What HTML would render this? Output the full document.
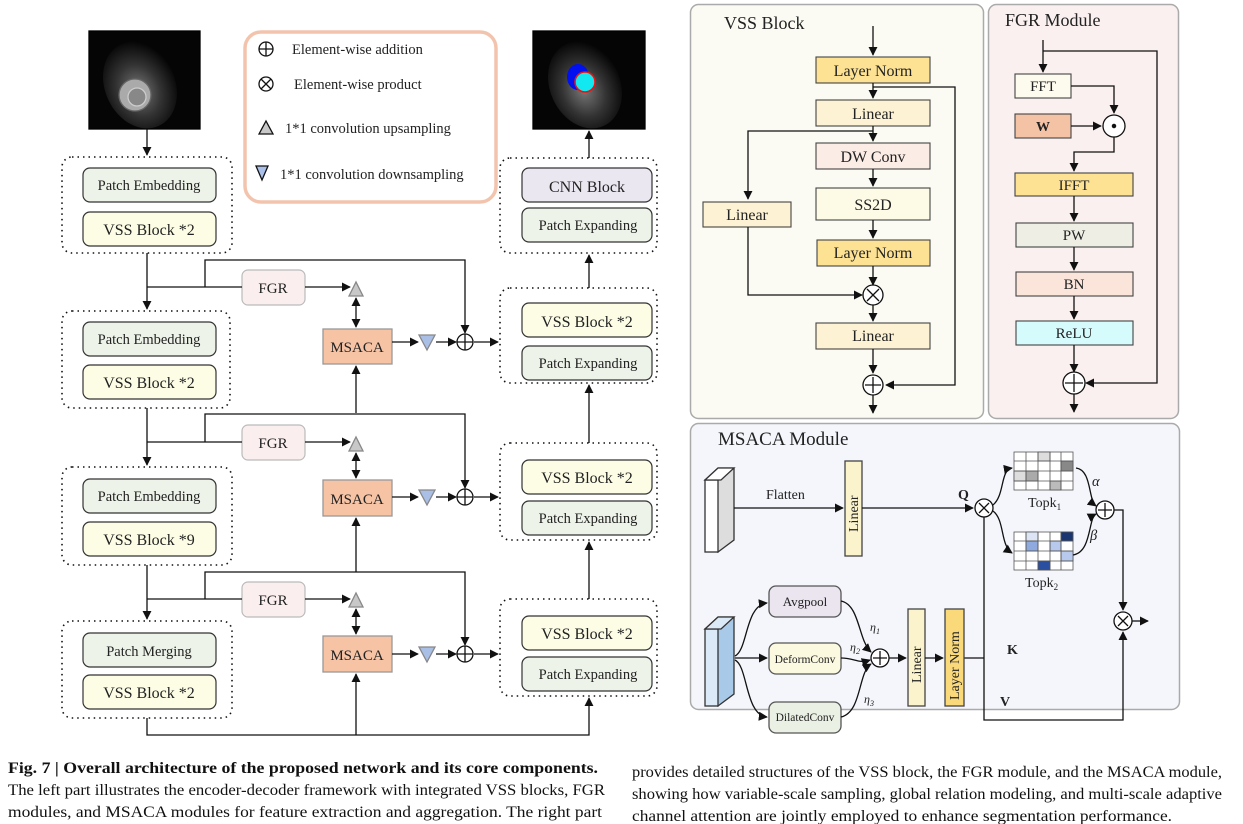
<!DOCTYPE html>
<html><head><meta charset="utf-8"><style>
html,body{margin:0;padding:0;background:#fff;width:1243px;height:824px;overflow:hidden}
svg{display:block}
text{font-family:"Liberation Serif",serif;fill:#222}
.c{font-size:16px;fill:#111}
</style></head><body>
<svg width="1243" height="824" viewBox="0 0 1243 824" xmlns="http://www.w3.org/2000/svg">
<defs>
<marker id="a" viewBox="0 0 10 10" refX="9" refY="5" markerWidth="7" markerHeight="7" orient="auto-start-reverse"><path d="M0,0L10,5L0,10z" fill="#111"/></marker>
<radialGradient id="img" cx="45%" cy="55%" r="60%"><stop offset="0" stop-color="#777"/><stop offset="0.5" stop-color="#333"/><stop offset="1" stop-color="#000"/></radialGradient>
</defs>
<g stroke="#111" stroke-width="1.3" fill="none">
<rect x="89" y="31" width="111" height="98" fill="#050505" stroke="#000"/>
<ellipse cx="140" cy="85" rx="35" ry="45" fill="url(#img)" stroke="none" transform="rotate(-25 140 85)"/>
<circle cx="135" cy="95" r="16" fill="#aaa" stroke="#666"/><circle cx="137" cy="97" r="9" fill="#888" stroke="#ccc"/>
<rect x="533" y="31" width="112" height="98" fill="#050505" stroke="#000"/>
<ellipse cx="585" cy="85" rx="35" ry="45" fill="url(#img)" stroke="none" transform="rotate(-25 585 85)"/>
<ellipse cx="578" cy="77" rx="11" ry="13" fill="#0010ee" stroke="none"/>
<circle cx="585" cy="82" r="10" fill="#11e8f0" stroke="#e11" stroke-width="1.5"/>
<rect x="245" y="32" width="251" height="170" rx="16" stroke="#f3c4ad" stroke-width="3.5"/>
<circle cx="266" cy="49" r="7"/><path d="M259,49h14M266,42v14"/>
<circle cx="266" cy="84" r="7"/><path d="M261,79l10,10M271,79l-10,10"/>
<path d="M259,134l7,-13l7,13z" fill="#c8c8c8"/>
<path d="M256,166l12,0l-6,14z" fill="#aac0e8"/>
<g stroke-dasharray="1.5 4" stroke-width="1.6">
<rect x="62" y="157" width="170" height="96" rx="10"/>
<rect x="62" y="311" width="168" height="97" rx="10"/>
<rect x="62" y="467" width="170" height="98" rx="10"/>
<rect x="62" y="621" width="170" height="97" rx="10"/>
<rect x="500" y="158" width="157" height="95" rx="10"/>
<rect x="500" y="288" width="157" height="95" rx="10"/>
<rect x="500" y="443" width="157" height="97" rx="10"/>
<rect x="500" y="599" width="157" height="97" rx="10"/>
</g>
<g stroke="#333" stroke-width="1.2">
<rect x="83" y="168" width="133" height="34" rx="7" fill="#edf3e8"/>
<rect x="83" y="212" width="133" height="34" rx="7" fill="#fdfde6"/>
<rect x="83" y="322" width="133" height="34" rx="7" fill="#edf3e8"/>
<rect x="83" y="365" width="133" height="34" rx="7" fill="#fdfde6"/>
<rect x="83" y="479" width="133" height="34" rx="7" fill="#edf3e8"/>
<rect x="83" y="522" width="133" height="34" rx="7" fill="#fdfde6"/>
<rect x="83" y="633" width="133" height="34" rx="7" fill="#edf3e8"/>
<rect x="83" y="675" width="133" height="34" rx="7" fill="#fdfde6"/>
<rect x="522" y="168" width="130" height="34" rx="7" fill="#ebe7f1"/>
<rect x="522" y="208" width="130" height="34" rx="7" fill="#edf3e8"/>
<rect x="522" y="303" width="130" height="34" rx="7" fill="#fdfde6"/>
<rect x="522" y="346" width="130" height="34" rx="7" fill="#edf3e8"/>
<rect x="522" y="460" width="130" height="34" rx="7" fill="#fdfde6"/>
<rect x="522" y="501" width="130" height="34" rx="7" fill="#edf3e8"/>
<rect x="522" y="616" width="130" height="34" rx="7" fill="#fdfde6"/>
<rect x="522" y="657" width="130" height="34" rx="7" fill="#edf3e8"/>
</g>
<g stroke="#bbb" stroke-width="1.2">
<rect x="242" y="270" width="63" height="35" rx="6" fill="#fbeeee"/>
<rect x="242" y="425" width="63" height="35" rx="6" fill="#fbeeee"/>
<rect x="242" y="582" width="63" height="35" rx="6" fill="#fbeeee"/>
</g>
<g stroke="#999" fill="#f6c3a5">
<rect x="323" y="329" width="69" height="35"/>
<rect x="323" y="480" width="69" height="36"/>
<rect x="323" y="636" width="69" height="36"/>
</g>
<path d="M147,129V155" marker-end="url(#a)"/>
<path d="M589,158V131" marker-end="url(#a)"/>
<path d="M589,288V255" marker-end="url(#a)"/>
<path d="M589,443V385" marker-end="url(#a)"/>
<path d="M589,599V542" marker-end="url(#a)"/>
<g>
<path d="M147,253V309" marker-end="url(#a)"/><path d="M147,287H242"/>
<path d="M205,287V260H465V333" marker-end="url(#a)"/>
<path d="M305,287H350" marker-end="url(#a)"/>
<path d="M392,342H418" marker-end="url(#a)"/><path d="M436,342H456" marker-end="url(#a)"/><path d="M474,342H498" marker-end="url(#a)"/>
<path d="M356,298V327" marker-start="url(#a)" marker-end="url(#a)"/>
<path d="M356,413V366" marker-end="url(#a)"/>
<path d="M147,408V465" marker-end="url(#a)"/><path d="M147,442H242"/>
<path d="M205,442V414H465V488" marker-end="url(#a)"/>
<path d="M305,442H350" marker-end="url(#a)"/>
<path d="M392,497H418" marker-end="url(#a)"/><path d="M436,497H456" marker-end="url(#a)"/><path d="M474,497H498" marker-end="url(#a)"/>
<path d="M356,453V478" marker-start="url(#a)" marker-end="url(#a)"/>
<path d="M356,572V518" marker-end="url(#a)"/>
<path d="M147,565V619" marker-end="url(#a)"/><path d="M147,599H242"/>
<path d="M205,599V572H465V645" marker-end="url(#a)"/>
<path d="M305,599H350" marker-end="url(#a)"/>
<path d="M392,654H418" marker-end="url(#a)"/><path d="M436,654H456" marker-end="url(#a)"/><path d="M474,654H498" marker-end="url(#a)"/>
<path d="M356,609V634" marker-start="url(#a)" marker-end="url(#a)"/>
<path d="M147,718V735H589V698"  marker-end="url(#a)"/><path d="M356,735V674" marker-end="url(#a)"/>
</g>
<g fill="#c8c8c8" stroke="#888"><path d="M349,296l7,-14l7,14z"/><path d="M349,451l7,-14l7,14z"/><path d="M349,607l7,-14l7,14z"/></g>
<g fill="#a9bfe6" stroke="#888"><path d="M419,335h16l-8,15z"/><path d="M419,490h16l-8,15z"/><path d="M419,647h16l-8,15z"/></g>
<g fill="#fff"><circle cx="465" cy="342" r="8"/><circle cx="465" cy="497" r="8"/><circle cx="465" cy="654" r="8"/></g>
<path d="M457,342h16M465,334v16M457,497h16M465,489v16M457,654h16M465,646v16"/>
<rect x="690.5" y="4.5" width="293" height="414" rx="8" fill="#fbfbf3" stroke="#aaa" stroke-width="1.5"/>
<rect x="988.5" y="4.5" width="190" height="414" rx="8" fill="#fbf0f0" stroke="#aaa" stroke-width="1.5"/>
<rect x="690.5" y="423.5" width="489" height="286" rx="8" fill="#f4f6fb" stroke="#aaa" stroke-width="1.5"/>
<g stroke="#444" stroke-width="1.1">
<rect x="816" y="57" width="114" height="26" fill="#fde294"/>
<rect x="816" y="100" width="114" height="26" fill="#fdf3d4"/>
<rect x="816" y="143" width="114" height="26" fill="#fbece6"/>
<rect x="816" y="188" width="114" height="32" fill="#fdfbe6"/>
<rect x="817" y="240" width="113" height="26" fill="#fde294"/>
<rect x="816" y="323" width="114" height="26" fill="#fdf3d4"/>
<rect x="703" y="202" width="88" height="25" fill="#fdf3d4"/>
<rect x="1015" y="74" width="56" height="24" fill="#fdfbee"/>
<rect x="1015" y="114" width="56" height="24" fill="#f4c3a6"/>
<rect x="1015" y="173" width="118" height="23" fill="#fde294"/>
<rect x="1016" y="223" width="117" height="24" fill="#eeeee4"/>
<rect x="1016" y="272" width="117" height="24" fill="#fbe5da"/>
<rect x="1016" y="321" width="117" height="24" fill="#d6fbfd"/>
</g>
<path d="M873,26V55" marker-end="url(#a)"/>
<path d="M873,83V98" marker-end="url(#a)"/><path d="M873,87H955V385H886" marker-end="url(#a)"/>
<path d="M873,126V141" marker-end="url(#a)"/><path d="M873,131H748V199" marker-end="url(#a)"/>
<path d="M873,169V186" marker-end="url(#a)"/><path d="M873,220V238" marker-end="url(#a)"/>
<path d="M873,266V285" marker-end="url(#a)"/><path d="M748,227V295H862" marker-end="url(#a)"/>
<path d="M873,305V321" marker-end="url(#a)"/><path d="M873,349V373" marker-end="url(#a)"/>
<path d="M873,393V413" marker-end="url(#a)"/>
<circle cx="873" cy="295" r="10" fill="#fff"/><path d="M867,289l12,12M879,289l-12,12"/>
<circle cx="873" cy="385" r="10" fill="#fff"/><path d="M865,385h16M873,377v16"/>
<path d="M1043,40V72" marker-end="url(#a)"/><path d="M1043,51H1157V383H1086" marker-end="url(#a)"/>
<path d="M1071,86H1114V113" marker-end="url(#a)"/><path d="M1071,126H1101" marker-end="url(#a)"/>
<path d="M1114,136V152H1074V171" marker-end="url(#a)"/>
<path d="M1074,196V221" marker-end="url(#a)"/><path d="M1074,247V270" marker-end="url(#a)"/>
<path d="M1074,296V319" marker-end="url(#a)"/><path d="M1074,345V372" marker-end="url(#a)"/>
<path d="M1074,393V412" marker-end="url(#a)"/>
<circle cx="1114" cy="126" r="11" fill="#fff"/><circle cx="1114" cy="126" r="1.6" fill="#111"/>
<circle cx="1074" cy="383" r="11" fill="#fff"/><path d="M1065,383h18M1074,374v18"/>
<path d="M705,480l13,-12h16v72l-16,12z" fill="#ddd" stroke="#333"/><rect x="705" y="480" width="13" height="72" fill="#fff" stroke="#333"/><path d="M705,480l13,-12h16l-13,12z" fill="#fff" stroke="#333"/>
<path d="M734,508H843" marker-end="url(#a)"/>
<rect x="845" y="461" width="17" height="95" fill="#fbf3cc" stroke="#444"/>
<path d="M862,508H973" marker-end="url(#a)"/>
<circle cx="984" cy="508" r="9" fill="#fff"/><path d="M979,503l10,10M989,503l-10,10"/>
<path d="M993,505C1005,495 1000,470 1012,468" marker-end="url(#a)"/>
<path d="M993,511C1005,520 1000,545 1012,553" marker-end="url(#a)"/>
<g stroke="#555" stroke-width="0.8">
<rect x="1014" y="452" width="59" height="38" fill="#fff"/>
<rect x="1038" y="452" width="12" height="9" fill="#ddd"/><rect x="1061" y="461" width="12" height="10" fill="#888"/>
<rect x="1014" y="471" width="12" height="10" fill="#ddd"/><rect x="1026" y="471" width="12" height="10" fill="#aaa"/><rect x="1050" y="481" width="11" height="9" fill="#bbb"/>
<path d="M1026,452v38M1038,452v38M1050,452v38M1061,452v38M1014,461h59M1014,471h59M1014,481h59"/>
<rect x="1014" y="532" width="59" height="38" fill="#fff"/>
<rect x="1026" y="532" width="12" height="9" fill="#dde5f5"/><rect x="1061" y="532" width="12" height="9" fill="#1a3570"/>
<rect x="1026" y="541" width="12" height="10" fill="#8eaadf"/><rect x="1050" y="541" width="11" height="10" fill="#b7c9ec"/><rect x="1061" y="551" width="12" height="10" fill="#b7c9ec"/>
<rect x="1038" y="561" width="12" height="9" fill="#2a4ea0"/>
<path d="M1026,532v38M1038,532v38M1050,532v38M1061,532v38M1014,541h59M1014,551h59M1014,561h59"/>
</g>
<path d="M1076,468C1092,470 1088,500 1096,506" marker-end="url(#a)"/>
<path d="M1073,555C1092,552 1088,518 1096,514" marker-end="url(#a)"/>
<circle cx="1105" cy="510" r="9" fill="#fff"/><path d="M1098,510h14M1105,503v14"/>
<path d="M1114,510H1123V610" marker-end="url(#a)"/>
<circle cx="1123" cy="621" r="9" fill="#fff"/><path d="M1118,616l10,10M1128,616l-10,10"/>
<path d="M1132,621H1148" marker-end="url(#a)"/>
<path d="M984,517V720H1123V632" marker-end="url(#a)"/>
<path d="M964,658H984"/>
<path d="M705,629l13,-12h16v77l-16,12z" fill="#a9c9e8" stroke="#333"/><rect x="705" y="629" width="13" height="77" fill="#dce9f6" stroke="#333"/><path d="M705,629l13,-12h16l-13,12z" fill="#dce9f6" stroke="#333"/>
<path d="M735,656C748,650 745,605 767,603" marker-end="url(#a)"/>
<path d="M735,658H767" marker-end="url(#a)"/>
<path d="M735,660C748,666 745,715 767,717" marker-end="url(#a)"/>
<g stroke="#555"><rect x="769" y="586" width="72" height="31" rx="7" fill="#ebe5f0"/>
<rect x="769" y="643" width="72" height="31" rx="7" fill="#fbf9e0"/>
<rect x="769" y="702" width="72" height="31" rx="7" fill="#eaf0e3"/></g>
<path d="M841,601C860,605 858,640 871,652" marker-end="url(#a)"/>
<path d="M841,658C855,658 858,664 870,660" marker-end="url(#a)"/>
<path d="M841,717C862,712 858,672 871,664" marker-end="url(#a)"/>
<circle cx="880" cy="658" r="9" fill="#fff"/><path d="M873,658h14M880,651v14"/>
<path d="M889,658H906" marker-end="url(#a)"/>
<rect x="908" y="609" width="17" height="97" fill="#fbf3cc" stroke="#444"/>
<path d="M925,658H943" marker-end="url(#a)"/>
<rect x="945" y="609" width="19" height="97" fill="#f9d97a" stroke="#444"/>
</g>
<g font-size="16" text-anchor="middle">
<text x="149" y="190" font-size="14.5">Patch Embedding</text><text x="149" y="235">VSS Block *2</text>
<text x="149" y="344" font-size="14.5">Patch Embedding</text><text x="149" y="388">VSS Block *2</text>
<text x="149" y="501" font-size="14.5">Patch Embedding</text><text x="149" y="545">VSS Block *9</text>
<text x="149" y="656" font-size="14.5">Patch Merging</text><text x="149" y="698">VSS Block *2</text>
<text x="587" y="192">CNN Block</text><text x="588" y="230" font-size="14.5">Patch Expanding</text>
<text x="587" y="327">VSS Block *2</text><text x="588" y="368" font-size="14.5">Patch Expanding</text>
<text x="587" y="483">VSS Block *2</text><text x="588" y="523" font-size="14.5">Patch Expanding</text>
<text x="587" y="639">VSS Block *2</text><text x="588" y="679" font-size="14.5">Patch Expanding</text>
<text x="273" y="293" font-size="15">FGR</text><text x="273" y="448" font-size="15">FGR</text><text x="273" y="605" font-size="15">FGR</text>
<text x="357" y="352" font-size="15">MSACA</text><text x="357" y="504" font-size="15">MSACA</text><text x="357" y="660" font-size="15">MSACA</text>
<text x="873" y="76">Layer Norm</text><text x="873" y="119">Linear</text><text x="873" y="162">DW Conv</text>
<text x="873" y="210">SS2D</text><text x="873" y="258">Layer Norm</text><text x="873" y="341">Linear</text><text x="747" y="220">Linear</text>
<text x="1043" y="91" font-size="15">FFT</text><text x="1043" y="131" font-size="14" font-weight="bold">W</text>
<text x="1074" y="190" font-size="15">IFFT</text><text x="1074" y="240" font-size="15">PW</text><text x="1074" y="289" font-size="15">BN</text><text x="1074" y="338" font-size="15">ReLU</text>
<text x="805" y="606" font-size="13">Avgpool</text><text x="805" y="663" font-size="11.5">DeformConv</text><text x="805" y="721" font-size="11.5">DilatedConv</text>
</g>
<g font-size="14.5">
<text x="292" y="54">Element-wise addition</text><text x="294" y="89">Element-wise product</text>
<text x="285" y="133">1*1 convolution upsampling</text><text x="280" y="179">1*1 convolution downsampling</text>
<text x="724" y="29" font-size="18">VSS Block</text><text x="1005" y="26" font-size="18">FGR Module</text>
<text x="718" y="445" font-size="19">MSACA Module</text>
<text x="766" y="499" font-size="14">Flatten</text>
<text x="958" y="499" font-size="14" font-weight="bold">Q</text>
<text x="1007" y="654" font-size="14" font-weight="bold">K</text>
<text x="1000" y="706" font-size="14" font-weight="bold">V</text>
<text x="1028" y="507" font-size="14">Topk<tspan font-size="9" dy="3">1</tspan></text>
<text x="1025" y="587" font-size="14">Topk<tspan font-size="9" dy="3">2</tspan></text>
<text x="1092" y="486" font-style="italic">α</text><text x="1090" y="540" font-style="italic">β</text>
<text x="870" y="631" font-size="12" font-style="italic">η<tspan font-size="8" dy="3">1</tspan></text>
<text x="850" y="651" font-size="12" font-style="italic">η<tspan font-size="8" dy="3">2</tspan></text>
<text x="864" y="703" font-size="12" font-style="italic">η<tspan font-size="8" dy="3">3</tspan></text>
</g>
<text x="0" y="0" font-size="14" transform="translate(858,532) rotate(-90)">Linear</text>
<text x="0" y="0" font-size="14" transform="translate(921,683) rotate(-90)">Linear</text>
<text x="0" y="0" font-size="14" transform="translate(959,700) rotate(-90)">Layer Norm</text>
<text class="c" x="8" y="773" font-weight="bold" textLength="590" lengthAdjust="spacingAndGlyphs">Fig. 7 | Overall architecture of the proposed network and its core components.</text>
<text class="c" x="8" y="795" textLength="597" lengthAdjust="spacingAndGlyphs">The left part illustrates the encoder-decoder framework with integrated VSS blocks, FGR</text>
<text class="c" x="8" y="817" textLength="594" lengthAdjust="spacingAndGlyphs">modules, and MSACA modules for feature extraction and aggregation. The right part</text>
<text class="c" x="632" y="777" textLength="590" lengthAdjust="spacingAndGlyphs">provides detailed structures of the VSS block, the FGR module, and the MSACA module,</text>
<text class="c" x="632" y="799" textLength="590" lengthAdjust="spacingAndGlyphs">showing how variable-scale sampling, global relation modeling, and multi-scale adaptive</text>
<text class="c" x="632" y="821" textLength="540" lengthAdjust="spacingAndGlyphs">channel attention are jointly employed to enhance segmentation performance.</text>
</svg>
</body></html>
